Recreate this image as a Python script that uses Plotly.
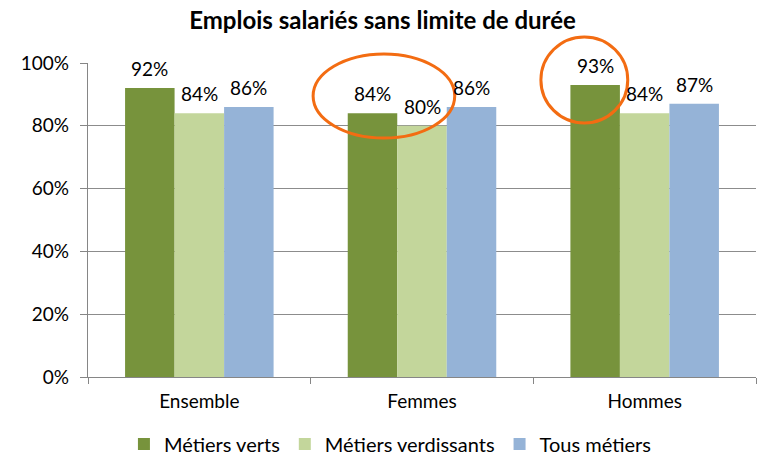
import plotly.graph_objects as go

categories = ["Ensemble", "Femmes", "Hommes"]
series_names = ["Métiers verts", "Métiers verdissants", "Tous métiers"]
metiers_verts = [92, 84, 93]
metiers_verdissants = [84, 80, 84]
tous_metiers = [86, 86, 87]
colors = ["#77933C", "#C3D69B", "#95B3D7"]
y_ticks = [0, 20, 40, 60, 80, 100]
y_tick_labels = ["0%", "20%", "40%", "60%", "80%", "100%"]

FONT = "Lato, Calibri, Liberation Sans, sans-serif"
BARGAP = 0.333
PLOT_W = 765 - 88 - 9
BAR_PX = PLOT_W / len(categories) * (1 - BARGAP) / len(series_names)

fig = go.Figure()
all_series = [metiers_verts, metiers_verdissants, tous_metiers]
for k, (name, vals, col) in enumerate(zip(series_names, all_series, colors)):
    fig.add_trace(go.Bar(
        x=categories, y=vals, name=name,
        marker=dict(color=col, line=dict(width=0)),
        hoverinfo="skip",
    ))
    for cat, v in zip(categories, vals):
        fig.add_annotation(x=cat, y=v, xref="x", yref="y", text=f"{v}%",
                           showarrow=False, yanchor="bottom", xanchor="center",
                           xshift=(k - 1) * BAR_PX, yshift=6,
                           font=dict(size=19, color="#000000", family=FONT))

ellipse_style = dict(type="circle", xref="paper", yref="paper",
                     line=dict(color="#F36C12", width=3), fillcolor="rgba(0,0,0,0)", layer="above")
fig.add_shape(x0=0.337, x1=0.549, y0=0.761, y1=1.029, **ellipse_style)
fig.add_shape(x0=0.678, x1=0.808, y0=0.809, y1=1.083, **ellipse_style)

fig.update_layout(
    width=765, height=470,
    margin=dict(l=88, r=9, t=63, b=93, autoexpand=False),
    paper_bgcolor="white", plot_bgcolor="white",
    barmode="group", bargap=BARGAP, bargroupgap=0,
    font=dict(family=FONT, size=19, color="#000000"),
    title=dict(text="<b>Emplois salariés sans limite de durée</b>", x=0.5, xanchor="center",
               y=0.957, yanchor="middle", font=dict(size=24, family=FONT, color="#000000")),
    showlegend=True,
    legend=dict(orientation="h", x=0.452, xanchor="center", y=-0.213, yanchor="middle",
                font=dict(size=20, family=FONT), traceorder="normal", itemwidth=30),
    xaxis=dict(showline=True, linecolor="#868686", linewidth=1.2, ticks="outside",
               tickson="boundaries", ticklen=6, tickcolor="#868686", showgrid=False,
               tickfont=dict(size=19, family=FONT), automargin=False, ticklabelstandoff=7),
    yaxis=dict(range=[0, 100], tickvals=y_ticks, ticktext=y_tick_labels,
               showline=True, linecolor="#868686", linewidth=1.2, ticks="outside", ticklen=7,
               tickcolor="#868686", showgrid=True, gridcolor="#8C8C8C", gridwidth=1,
               zeroline=False, tickfont=dict(size=19, family=FONT), automargin=False,
               ticklabelstandoff=7),
)

fig.write_html("out.html", config={"displayModeBar": False},
               post_script="document.body.style.margin='0';")
